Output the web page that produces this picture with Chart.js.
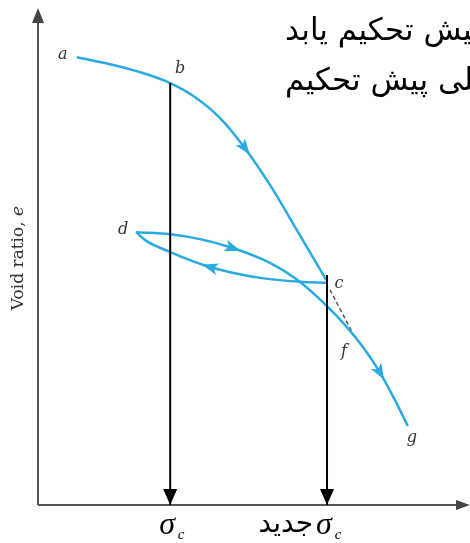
<!DOCTYPE html>
<html>
<head>
<meta charset="utf-8">
<script src="https://cdn.jsdelivr.net/npm/chart.js@4.4.1/dist/chart.umd.min.js"></script>
<style>
  body { margin: 0; background: #fff; }
  #wrap { width: 470px; height: 543px; }
</style>
</head>
<body>
<div id="wrap"><canvas id="chart"></canvas></div>
<script>
// x = log of effective stress (arbitrary units), y = void ratio e
const virginX = [0.90, 1.67, 2.36, 3.06, 3.63, 4.21, 4.79, 5.37, 6.02, 6.67];
const virginE = [0.901, 0.887, 0.871, 0.849, 0.821, 0.779, 0.718, 0.644, 0.549, 0.453];

const unloadX = [6.69, 6.06, 5.14, 3.98, 3.06, 2.48, 2.27];
const unloadE = [0.447, 0.449, 0.457, 0.479, 0.509, 0.533, 0.549];

const reloadX = [2.27, 3.06, 3.75, 4.51, 5.37, 6.00, 6.69, 7.15, 7.52, 7.92, 8.31, 8.56];
const reloadE = [0.549, 0.545, 0.535, 0.517, 0.487, 0.453, 0.400, 0.358, 0.318, 0.266, 0.203, 0.159];

const extendX = [6.76, 7.27];
const extendE = [0.433, 0.348];

const sigmaC = 3.06, sigmaCTop = 0.849;
const sigmaCNew = 6.69, sigmaCNewTop = 0.463;

const pointNames = ['a', 'b', 'c', 'd', 'f', 'g'];
const pointX = [0.90, 3.06, 6.69, 2.27, 7.27, 8.56];
const pointE = [0.901, 0.849, 0.447, 0.549, 0.348, 0.159];

const noteLines = ['پیش تحکیم یابد', 'قبلی پیش تحکیم'];
const newWord = 'جدید';
const yTitle = 'Void ratio, ';

const toPts = (xs, ys) => xs.map((x, i) => ({ x: x, y: ys[i] }));

const BLUE = '#29abe2';

function curve(xs, ys, arrows) {
    return {
        data: toPts(xs, ys),
        showLine: true,
        borderColor: BLUE,
        borderWidth: 2.5,
        pointRadius: 0,
        cubicInterpolationMode: 'monotone',
        arrows: arrows
    };
}

function drop(x, top) {
    return {
        data: [{ x: x, y: top }, { x: x, y: 0 }],
        showLine: true,
        borderColor: '#000',
        borderWidth: 2,
        pointRadius: 0,
        dropArrow: true
    };
}

const sketch = {
    id: 'sketch',
    beforeDatasetsDraw(chart) {
        const ctx = chart.ctx, xs = chart.scales.x, ys = chart.scales.y;
        const x0 = xs.getPixelForValue(0), y0 = ys.getPixelForValue(0);
        const top = chart.chartArea.top, right = chart.chartArea.right;
        ctx.save();
        ctx.strokeStyle = '#555';
        ctx.fillStyle = '#444';
        ctx.lineWidth = 2;
        ctx.beginPath();
        ctx.moveTo(x0, y0);
        ctx.lineTo(x0, top + 10);
        ctx.moveTo(x0, y0);
        ctx.lineTo(right - 8, y0);
        ctx.stroke();
        // axis arrowheads
        ctx.beginPath();
        ctx.moveTo(x0, top);
        ctx.lineTo(x0 - 6, top + 15);
        ctx.lineTo(x0 + 6, top + 15);
        ctx.closePath();
        ctx.fill();
        ctx.beginPath();
        ctx.moveTo(right, y0);
        ctx.lineTo(right - 14, y0 - 5);
        ctx.lineTo(right - 14, y0 + 5);
        ctx.closePath();
        ctx.fill();
        ctx.restore();
    },
    afterDatasetsDraw(chart) {
        const ctx = chart.ctx, xs = chart.scales.x, ys = chart.scales.y;
        ctx.save();
        chart.data.datasets.forEach((ds, di) => {
            const meta = chart.getDatasetMeta(di);
            (ds.arrows || []).forEach(i => {
                const p = meta.data[i], a = meta.data[i - 1], b = meta.data[i + 1];
                const ang = Math.atan2(b.y - a.y, b.x - a.x);
                ctx.save();
                ctx.translate(p.x, p.y);
                ctx.rotate(ang);
                ctx.fillStyle = BLUE;
                ctx.beginPath();
                ctx.moveTo(8, 0);
                ctx.lineTo(-8, -6);
                ctx.lineTo(-4, 0);
                ctx.lineTo(-8, 6);
                ctx.closePath();
                ctx.fill();
                ctx.restore();
            });
            if (ds.dropArrow) {
                const p = meta.data[1];
                ctx.fillStyle = '#000';
                ctx.beginPath();
                ctx.moveTo(p.x, p.y);
                ctx.lineTo(p.x - 7, p.y - 16);
                ctx.lineTo(p.x + 7, p.y - 16);
                ctx.closePath();
                ctx.fill();
            }
        });

        // point letters
        const offs = { a: [-14, -2], b: [10, -14], c: [12, 1], d: [-13, -2], f: [-8, 20], g: [4, 12] };
        ctx.font = 'italic 16px "DejaVu Serif"';
        ctx.fillStyle = '#333';
        ctx.textAlign = 'center';
        ctx.textBaseline = 'middle';
        pointNames.forEach((n, i) => {
            const px = xs.getPixelForValue(pointX[i]), py = ys.getPixelForValue(pointE[i]);
            ctx.fillText(n, px + offs[n][0], py + offs[n][1]);
        });

        // y axis title
        ctx.save();
        ctx.translate(19, 258);
        ctx.rotate(-Math.PI / 2);
        ctx.font = '17px "DejaVu Serif"';
        const w1 = ctx.measureText(yTitle).width;
        ctx.font = 'italic 17px "DejaVu Serif"';
        const w2 = ctx.measureText('e').width;
        ctx.textAlign = 'left';
        ctx.font = '17px "DejaVu Serif"';
        ctx.fillText(yTitle, -(w1 + w2) / 2, 0);
        ctx.font = 'italic 17px "DejaVu Serif"';
        ctx.fillText('e', -(w1 + w2) / 2 + w1, 0);
        ctx.restore();

        // sigma labels under the axis
        ctx.fillStyle = '#000';
        ctx.textBaseline = 'alphabetic';
        [sigmaC, sigmaCNew].forEach(v => {
            const px = xs.getPixelForValue(v);
            ctx.font = 'italic 32px "Liberation Serif"';
            ctx.textAlign = 'center';
            ctx.fillText('σ', px - 3, 534);
            ctx.font = 'italic 15px "Liberation Serif"';
            ctx.fillText('c', px + 11, 539);
        });
        ctx.font = '28px "DejaVu Sans"';
        ctx.textAlign = 'right';
        ctx.direction = 'rtl';
        ctx.fillText(newWord, xs.getPixelForValue(sigmaCNew) - 14, 532);

        // note text, running off the right edge
        ctx.font = '31px "DejaVu Sans"';
        ctx.textAlign = 'left';
        ctx.fillText(noteLines[0], 285, 40);
        ctx.fillText(noteLines[1], 285, 90);
        ctx.restore();
    }
};

new Chart(document.getElementById('chart'), {
    type: 'scatter',
    data: {
        datasets: [
            drop(sigmaC, sigmaCTop),
            drop(sigmaCNew, sigmaCNewTop),
            curve(virginX, virginE, [6]),
            curve(unloadX, unloadE, [3]),
            curve(reloadX, reloadE, [3, 9]),
            {
                data: toPts(extendX, extendE),
                showLine: true,
                borderColor: '#555',
                borderWidth: 1.5,
                borderDash: [4, 3],
                pointRadius: 0
            }
        ]
    },
    options: {
        responsive: true,
        maintainAspectRatio: false,
        animation: false,
        layout: { padding: { left: 38, right: 0, top: 8, bottom: 38 } },
        plugins: { legend: { display: false }, tooltip: { enabled: false } },
        scales: {
            x: { type: 'linear', min: 0, max: 10, display: false },
            y: { type: 'linear', min: 0, max: 1, display: false }
        }
    },
    plugins: [sketch]
});
</script>
</body>
</html>
